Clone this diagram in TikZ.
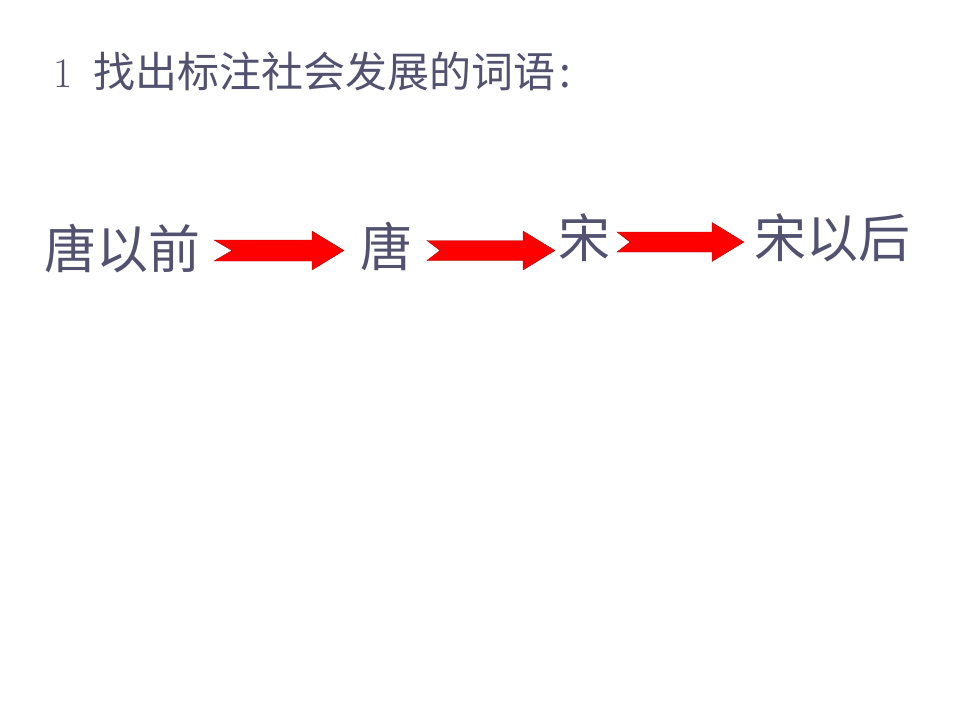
\documentclass[tikz,border=0pt]{standalone}
\usepackage{fontspec}
\newfontfamily\cjk{Noto Sans CJK SC}
\usepackage{tikz}
\definecolor{slate}{RGB}{82,82,112}
\definecolor{arrowred}{RGB}{255,0,0}
\definecolor{arrowedge}{RGB}{150,20,20}

\begin{document}
\begin{tikzpicture}[x=1pt,y=-1pt,
	word/.style={inner sep=0pt,text=slate,font=\cjk\fontsize{52}{52}\selectfont},
	title/.style={inner sep=0pt,anchor=west,text=slate,font=\cjk\fontsize{42}{42}\selectfont}]
		\useasboundingbox[fill=white] (0,0) rectangle (960,720);
		\node[title] (head) at (53,72) {\rmfamily 1\hspace{21pt}\cjk 找出标注社会发展的词语\hspace{4pt}:};
		\node[word] (before) at (122.5,249) {唐以前};
		\node[word] (tang) at (386,247) {唐};
		\node[word] (song) at (584,238) {宋};
		\node[word] (after) at (832,238) {宋以后};
		% red notched arrows: left, notch, head, tip, y, body, head half width
		\foreach \l/\n/\h/\t/\y/\b/\w in {214/232/312/344/250.5/10.5/19.5, 427/440/523/555/250.5/10/19.5, 617/630/712/744/242/10/19.5}{
			\draw[fill=arrowred,draw=arrowedge,line width=0.4pt] (\l,\y-\b) -- (\h,\y-\b) -- (\h,\y-\w) -- (\t,\y) -- (\h,\y+\w) -- (\h,\y+\b) -- (\l,\y+\b) -- (\n,\y) -- cycle;
		}
\end{tikzpicture}
\end{document}
